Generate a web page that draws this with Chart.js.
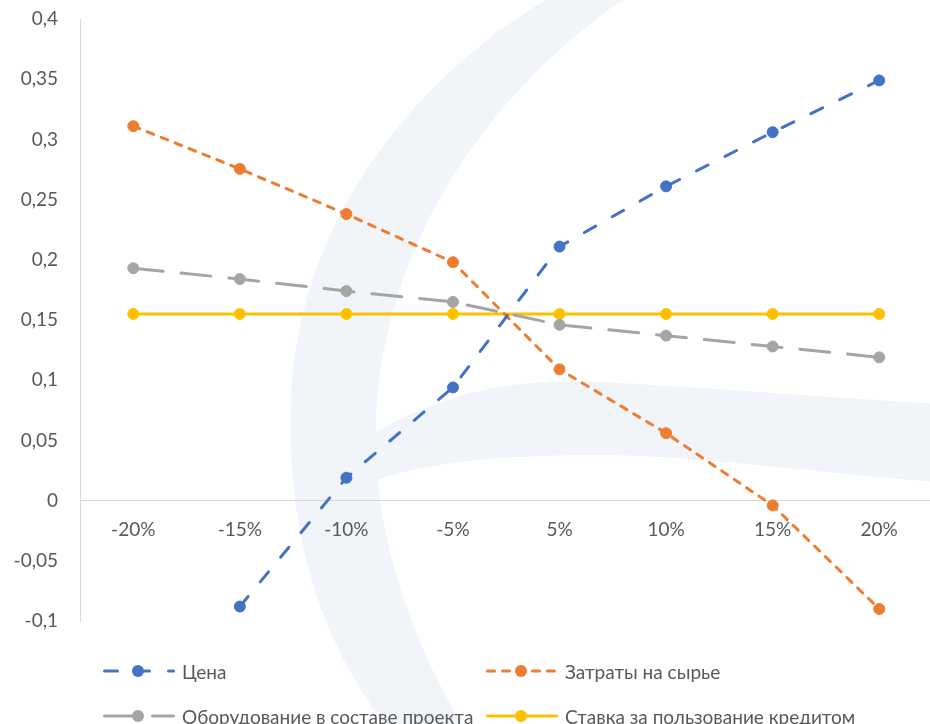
<!DOCTYPE html>
<html>
<head>
<meta charset="utf-8">
<script src="https://cdn.jsdelivr.net/npm/chart.js@4.4.1/dist/chart.umd.min.js"></script>
<style>
  body { margin: 0; background: #fff; }
  #wrap { position: relative; width: 930px; height: 724px; overflow: hidden; }
  #legend .item { position: absolute; display: flex; align-items: center; height: 20px;
    font: 19px Lato, "Open Sans", sans-serif; color: #595959; white-space: nowrap; }
  #legend canvas { margin-right: 7px; }
</style>
</head>
<body>
<div id="wrap">
  <canvas id="chart" width="939" height="724"></canvas>
  <div id="legend"></div>
</div>
<script>
// данные
const categorias = ['-20%', '-15%', '-10%', '-5%', '5%', '10%', '15%', '20%'];
const cena = [null, -0.088, 0.019, 0.094, 0.211, 0.261, 0.306, 0.349];
const zatraty = [0.311, 0.2755, 0.238, 0.198, 0.109, 0.056, -0.004, -0.09];
const oborudovanie = [0.193, 0.184, 0.174, 0.165, 0.146, 0.137, 0.128, 0.119];
const stavka = [0.155, 0.155, 0.155, 0.155, 0.155, 0.155, 0.155, 0.155];
const nombres = ['Цена', 'Затраты на сырье', 'Оборудование в составе проекта', 'Ставка за пользование кредитом'];
const yMin = -0.1, yMax = 0.4, yStep = 0.05;

const colores = ['#4472C4', '#ED7D31', '#A5A5A5', '#FFC000'];
const guiones = [[13, 19], [7, 8], [30, 18], []];

const fuente = 'Lato, "Open Sans", sans-serif';

// marca de agua clara detras del grafico
const fondo = {
  id: 'fondo',
  beforeDraw(chart) {
    const c = chart.ctx;
    c.save();
    c.fillStyle = '#f1f4f8';
    c.beginPath();
    c.moveTo(545, 0);
    c.bezierCurveTo(400, 90, 298, 230, 291, 400);
    c.bezierCurveTo(286, 530, 320, 640, 385, 724);
    c.lineTo(462, 724);
    c.bezierCurveTo(405, 630, 372, 520, 376, 420);
    c.bezierCurveTo(383, 250, 480, 100, 622, 0);
    c.closePath();
    c.fill();
    c.beginPath();
    c.moveTo(376, 432);
    c.bezierCurveTo(450, 390, 520, 378, 600, 382);
    c.bezierCurveTo(720, 388, 830, 398, 940, 404);
    c.lineTo(940, 482);
    c.bezierCurveTo(830, 475, 700, 455, 600, 455);
    c.bezierCurveTo(500, 455, 430, 462, 376, 480);
    c.closePath();
    c.fill();
    c.restore();
  }
};

const series = [cena, zatraty, oborudovanie, stavka];
const datasets = series.map((d, i) => ({
  label: nombres[i],
  data: d,
  borderColor: colores[i],
  backgroundColor: colores[i],
  borderWidth: 3,
  borderDash: guiones[i],
  borderCapStyle: 'round',
  pointRadius: 5.5,
  pointBorderWidth: 1,
  pointBackgroundColor: colores[i],
  pointBorderColor: colores[i],
  tension: 0,
  spanGaps: false
}));

const grafico = new Chart(document.getElementById('chart').getContext('2d'), {
  type: 'line',
  data: { labels: categorias, datasets: datasets },
  options: {
    responsive: false,
    animation: false,
    layout: { padding: { top: 19, bottom: 103, left: 0, right: 0 } },
    plugins: { legend: { display: false }, tooltip: { enabled: false } },
    scales: {
      x: {
        position: { y: 0 },
        offset: true,
        grid: { display: false },
        border: { display: true, color: '#d9d9d9', width: 1 },
        ticks: { color: '#595959', font: { family: fuente, size: 19 }, padding: 10, maxRotation: 0 }
      },
      y: {
        min: yMin,
        max: yMax,
        grid: { display: false, drawTicks: false },
        border: { display: true, color: '#d9d9d9', width: 1 },
        afterFit: s => { s.width = 80; s.paddingTop = 0; s.paddingBottom = 0; },
        ticks: {
          stepSize: yStep,
          padding: 22,
          color: '#595959',
          font: { family: fuente, size: 19 },
          callback: v => String(Math.round(v * 100) / 100).replace('.', ',')
        }
      }
    }
  },
  plugins: [fondo]
});

// leyenda en dos columnas
const leyenda = document.getElementById('legend');
const colX = [103, 486], filaY = [671, 716];
grafico.data.datasets.forEach((ds, i) => {
  const item = document.createElement('div');
  item.className = 'item';
  item.style.left = colX[i % 2] + 'px';
  item.style.top = (filaY[Math.floor(i / 2)] - 10) + 'px';
  const m = document.createElement('canvas');
  m.width = 72; m.height = 16;
  const c = m.getContext('2d');
  c.strokeStyle = ds.borderColor;
  c.lineWidth = 3;
  c.lineCap = 'round';
  c.setLineDash(ds.borderDash);
  c.beginPath(); c.moveTo(1.5, 8); c.lineTo(70.5, 8); c.stroke();
  c.fillStyle = ds.borderColor;
  c.beginPath(); c.arc(35, 8, 6, 0, Math.PI * 2); c.fill();
  const t = document.createElement('span');
  t.textContent = ds.label;
  item.appendChild(m); item.appendChild(t);
  leyenda.appendChild(item);
});
</script>
</body>
</html>
